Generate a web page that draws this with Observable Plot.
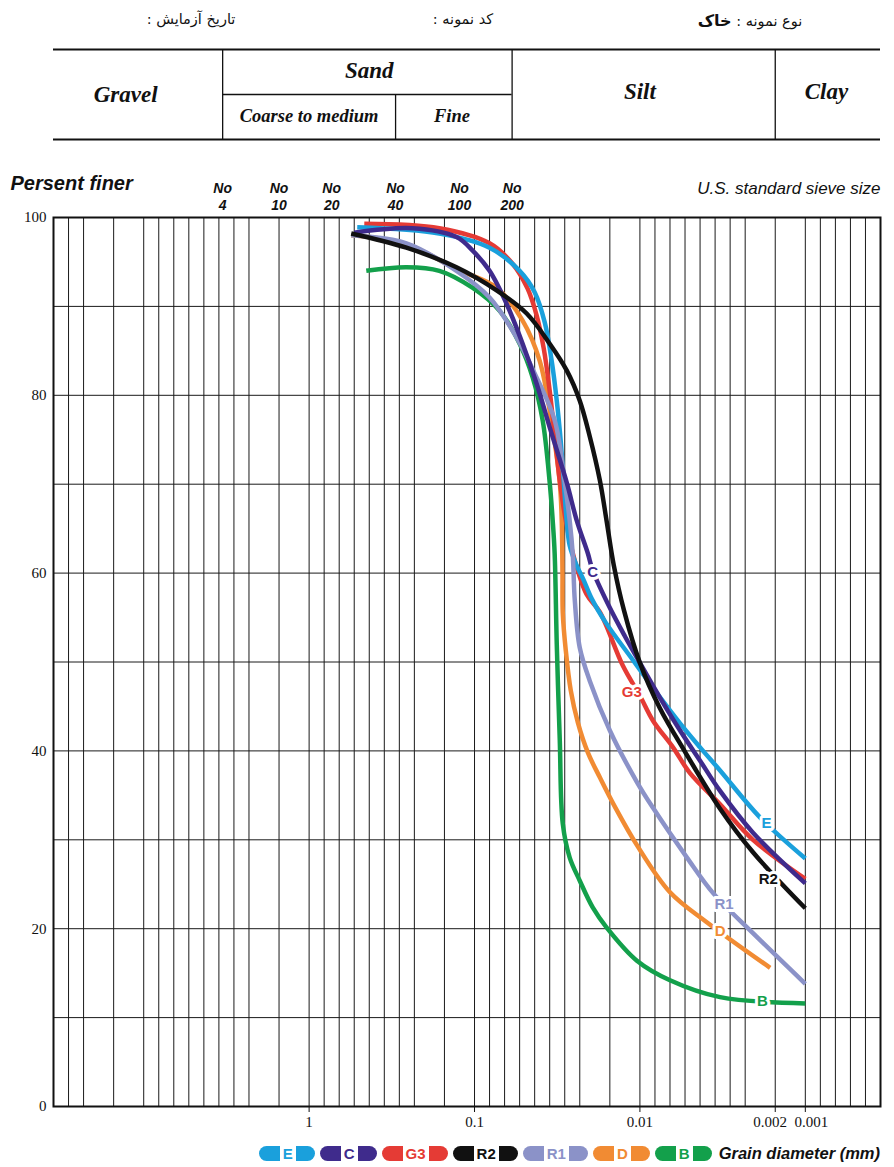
<!DOCTYPE html>
<html><head><meta charset="utf-8">
<script src="https://cdn.jsdelivr.net/npm/d3@7"></script>
<script src="https://cdn.jsdelivr.net/npm/@observablehq/plot@0.6"></script>
<style>
html,body{margin:0;padding:0;background:#fff;}
#page{position:relative;width:894px;height:1167px;overflow:hidden;background:#fff;}
svg{display:block}
#fa{position:absolute;top:11px;left:0;width:894px;height:24px;font-family:"DejaVu Sans",sans-serif;font-size:14.5px;color:#111;}
#fa span{position:absolute;transform:translateX(-50%);white-space:nowrap;}
#fa b{font-size:16px;}
#legend{display:flex;justify-content:flex-end;align-items:center;height:22px;margin-top:4px;padding-right:14px;font-family:"Liberation Sans",Arial,sans-serif;}
.l{display:inline-block;width:21px;height:15px;border-radius:8px 0 0 8px;}
.r{display:inline-block;width:19px;height:15px;border-radius:0 8px 8px 0;margin-right:5px;}
.t{font-weight:bold;font-size:15px;margin:0 3px;}
.g{font-weight:bold;font-style:italic;font-size:16.5px;margin-left:2px;color:#111;}
</style></head>
<body><div id="page"><div id="top"></div>
<div id="fa">
<span dir="rtl" style="left:191px">تاریخ آزمایش :</span>
<span dir="rtl" style="left:463px">کد نمونه :</span>
<span dir="rtl" style="left:750px">نوع نمونه : <b>خاک</b></span>
</div>
<div id="main"></div><div id="legend"></div></div>
<script>
// ---- data ----
const seriesNames = ["E", "C", "G3", "R2", "R1", "D", "B"];
const seriesColors = ["#1aa0dc", "#3f2b8c", "#e53b35", "#111111", "#8b92c8", "#f18b33", "#13a04b"];

// grain diameter (mm), percent finer
const E  = [[0.68,98.9],[0.217,98.2],[0.09,96.6],[0.07,94.0],[0.06,91.6],[0.0533,88.2],[0.0487,83.9],[0.0453,79.4],[0.0427,74.9],[0.0407,70.4],[0.0387,65.9],[0.0367,63.1],[0.0327,61.1],[0.0287,59.2],[0.026,57.1],[0.0213,54.4],[0.0123,50.2],[0.00887,46.5],[0.00733,43.1],[0.006,40.4],[0.00467,37.8],[0.0025,32.5],[0.001,27.9]];
const C  = [[0.7,98.3],[0.313,98.8],[0.16,97.8],[0.107,96.3],[0.09,94.0],[0.0787,90.3],[0.068,85.8],[0.0587,81.3],[0.05,76.4],[0.0387,70.2],[0.032,65.9],[0.0273,62.2],[0.0257,60.3],[0.02,56.1],[0.015,52.9],[0.01,49.9],[0.00867,46.0],[0.00733,42.3],[0.006,38.9],[0.00467,35.5],[0.00274,30.8],[0.001,25.1]];
const G3 = [[0.633,99.3],[0.217,98.8],[0.09,97.1],[0.0747,94.8],[0.0647,92.0],[0.0587,89.0],[0.054,85.3],[0.05,80.5],[0.0467,75.5],[0.0433,70.4],[0.0393,65.9],[0.0333,61.4],[0.0277,57.6],[0.0233,55.6],[0.0157,49.6],[0.01,46.2],[0.00913,43.4],[0.0078,40.4],[0.00667,37.5],[0.00467,34.0],[0.00274,30.0],[0.001,25.6]];
const R2 = [[0.72,98.2],[0.353,96.6],[0.16,94.4],[0.0853,91.8],[0.0653,89.2],[0.05,85.8],[0.0387,82.8],[0.03,79.4],[0.0267,75.4],[0.0233,70.4],[0.021,65.7],[0.0187,60.9],[0.0153,55.8],[0.01,49.9],[0.00867,44.8],[0.007,39.9],[0.00467,33.5],[0.00274,28.6],[0.001,22.3]];
const R1 = [[0.72,98.0],[0.353,97.1],[0.16,94.0],[0.09,91.0],[0.072,86.5],[0.0587,82.0],[0.0467,77.2],[0.04,70.2],[0.0367,65.9],[0.0347,62.2],[0.0333,56.9],[0.03,51.6],[0.0267,47.9],[0.02,42.3],[0.011,36.5],[0.00913,33.6],[0.00687,28.0],[0.00513,24.0],[0.00274,19.5],[0.001,13.8]];
const D  = [[0.72,98.0],[0.353,97.0],[0.16,94.2],[0.0853,92.1],[0.068,88.4],[0.0567,83.9],[0.049,77.2],[0.0433,70.2],[0.042,65.9],[0.0415,60.0],[0.0413,55.5],[0.0393,51.3],[0.036,46.8],[0.0313,43.2],[0.0273,39.8],[0.0233,37.0],[0.0183,33.7],[0.011,29.4],[0.008,24.1],[0.00553,20.7],[0.00217,15.6]];
const B  = [[0.62,94.0],[0.353,94.4],[0.217,94.0],[0.107,92.1],[0.0833,89.5],[0.07,85.8],[0.0613,82.0],[0.0547,77.2],[0.05,70.2],[0.048,65.9],[0.0467,62.2],[0.0453,52.0],[0.0433,41.2],[0.0413,31.8],[0.0367,28.0],[0.03,25.4],[0.0257,22.4],[0.021,20.1],[0.011,16.4],[0.008,14.2],[0.00467,12.3],[0.001,11.6]];
const seriesData = {E, C, G3, R2, R1, D, B};
const drawOrder = ["B", "D", "G3", "E", "R1", "C", "R2"];

// curve labels
const labelNames = ["E", "C", "G3", "R2", "R1", "D", "B"];
const labelX = [0.00229, 0.0257, 0.0127, 0.00223, 0.0044, 0.00467, 0.00243];
const labelY = [31.9, 60.1, 46.6, 25.6, 22.8, 19.7, 11.8];

// stylised grain-size grid of the printed form (evenly spaced cells)
const xDomain = [50,40,30,25,20,15,
  10,9,8,7,6,5,4,3,2.5,2,1.5,
  1,0.9,0.8,0.7,0.6,0.5,0.4,0.3,0.25,0.2,0.15,
  0.1,0.09,0.08,0.07,0.06,0.05,0.04,0.03,0.025,0.02,0.015,
  0.01,0.009,0.008,0.007,0.006,0.005,0.004,0.003,0.0025,0.002,0.0015,
  0.001,0.0009,0.0008,0.0007,0.0006,0.0005];
const gapValues = [25,15,2.5,1.5,0.25,0.15,0.025,0.015,0.0025,0.0015];
const xGridLines = xDomain.filter((v, i) => i > 0 && i < xDomain.length - 1 && !gapValues.includes(v));
const xTicks = [1, 0.1, 0.01, 0.002, 0.001];
const xTicksShifted = [0.002, 0.001];   // labels printed nudged apart on the form
const yTicks = [0, 20, 40, 60, 80, 100];
const yGrid = [10, 20, 30, 40, 50, 60, 70, 80, 90];

const sieveNames = ["No\n4", "No\n10", "No\n20", "No\n40", "No\n100", "No\n200"];
const sieveSizes = [4.75, 2, 0.85, 0.425, 0.15, 0.075];

// classification table
const tableBig = [["Gravel", 16, 1], ["Sand", 0.6, 1.53], ["Silt", 0.01, 1.07], ["Clay", 0.00086, 1.07]];
const tableSmall = [["Coarse to medium", 1, 0.53], ["Fine", 0.175, 0.53]];
const classBounds = [4.75, 0.075, 0.002];
const sandSplit = 0.425;

// ---- build ----
const rows = [];
for (const s of drawOrder) for (const [x, y] of seriesData[s]) rows.push({s, x, y});
const labels = labelNames.map((s, i) => ({s, x: labelX[i], y: labelY[i]}));
const sieves = sieveNames.map((name, i) => ({name, size: sieveSizes[i]}));

const serif = '"Liberation Serif", "Times New Roman", serif';
const sans = '"Liberation Sans", Arial, sans-serif';

const table = Plot.plot({
  width: 894, height: 150,
  marginTop: 4, marginBottom: 11, marginLeft: 53, marginRight: 14,
  style: {fontFamily: serif, background: "#fff", color: "#111"},
  x: {type: "linear", domain: xDomain, axis: null},
  y: {domain: [0, 3], axis: null},
  marks: [
    Plot.ruleY([0, 2], {x1: xDomain[0], x2: xDomain[xDomain.length - 1], stroke: "#111", strokeWidth: 2.2}),
    Plot.ruleY([1], {x1: classBounds[0], x2: classBounds[1], stroke: "#111", strokeWidth: 1.3}),
    Plot.ruleX(classBounds, {y1: 0, y2: 2, stroke: "#111", strokeWidth: 1.3}),
    Plot.ruleX([sandSplit], {y1: 0, y2: 1, stroke: "#111", strokeWidth: 1.3}),
    Plot.text(tableBig, {x: d => d[1], y: d => d[2], text: d => d[0], fontFamily: serif, fontWeight: "bold", fontStyle: "italic", fontSize: 23, fill: "#111"}),
    Plot.text(tableSmall, {x: d => d[1], y: d => d[2], text: d => d[0], fontFamily: serif, fontWeight: "bold", fontStyle: "italic", fontSize: 18.5, fill: "#111"})
  ]
});
document.getElementById("top").append(table);

const main = Plot.plot({
  width: 894, height: 988,
  marginTop: 67, marginBottom: 32, marginLeft: 53, marginRight: 14,
  style: {fontFamily: serif, fontSize: "15px", background: "#fff", color: "#111", overflow: "visible"},
  x: {type: "linear", domain: xDomain, ticks: xTicks, tickFormat: d => xTicksShifted.includes(d) ? "" : String(d), tickSize: 6, tickPadding: 4, label: null},
  y: {domain: [0, 100], ticks: yTicks, tickSize: 0, tickPadding: 7, label: null},
  color: {domain: seriesNames, range: seriesColors},
  marks: [
    Plot.ruleX(xGridLines, {stroke: "#1a1a1a", strokeWidth: 1}),
    Plot.ruleY(yGrid, {stroke: "#1a1a1a", strokeWidth: 1}),
    Plot.line(rows, {x: "x", y: "y", z: "s", stroke: "s", strokeWidth: 4.5, curve: "catmull-rom", strokeLinecap: "butt"}),
    Plot.text(labels, {x: "x", y: "y", text: "s", fill: "s", stroke: "white", strokeWidth: 6, paintOrder: "stroke", fontFamily: sans, fontWeight: "bold", fontSize: 15}),
    Plot.text(sieves, {x: "size", y: 100, text: "name", dy: -8, lineAnchor: "bottom", lineHeight: 1.15, fontFamily: sans, fontWeight: "bold", fontStyle: "italic", fontSize: 14, fill: "#111"}),
    Plot.text([xTicksShifted[0]], {x: d => d, y: 0, text: d => String(d), dx: -5, dy: 10, lineAnchor: "top", fontFamily: serif, fontSize: 15, fill: "#111"}),
    Plot.text([xTicksShifted[1]], {x: d => d, y: 0, text: d => String(d), dx: 6, dy: 10, lineAnchor: "top", fontFamily: serif, fontSize: 15, fill: "#111"}),
    Plot.text(["Persent finer"], {text: d => d, frameAnchor: "top-left", dx: -43, dy: -34, textAnchor: "start", lineAnchor: "middle", fontFamily: sans, fontWeight: "bold", fontStyle: "italic", fontSize: 20, fill: "#111"}),
    Plot.text(["U.S. standard sieve size"], {text: d => d, frameAnchor: "top-right", dy: -29, textAnchor: "end", lineAnchor: "middle", fontFamily: sans, fontStyle: "italic", fontSize: 17, fill: "#111"}),
    Plot.frame({stroke: "#111", strokeWidth: 2})
  ]
});
document.getElementById("main").append(main);

// legend
const lg = document.getElementById("legend");
seriesNames.forEach((s, i) => {
  const c = seriesColors[i];
  const a = document.createElement("span"); a.className = "l"; a.style.background = c;
  const t = document.createElement("span"); t.className = "t"; t.style.color = c; t.textContent = s;
  const b = document.createElement("span"); b.className = "r"; b.style.background = c;
  lg.append(a, t, b);
});
const g = document.createElement("span"); g.className = "g"; g.textContent = "Grain diameter (mm)";
lg.append(g);
</script></body></html>
